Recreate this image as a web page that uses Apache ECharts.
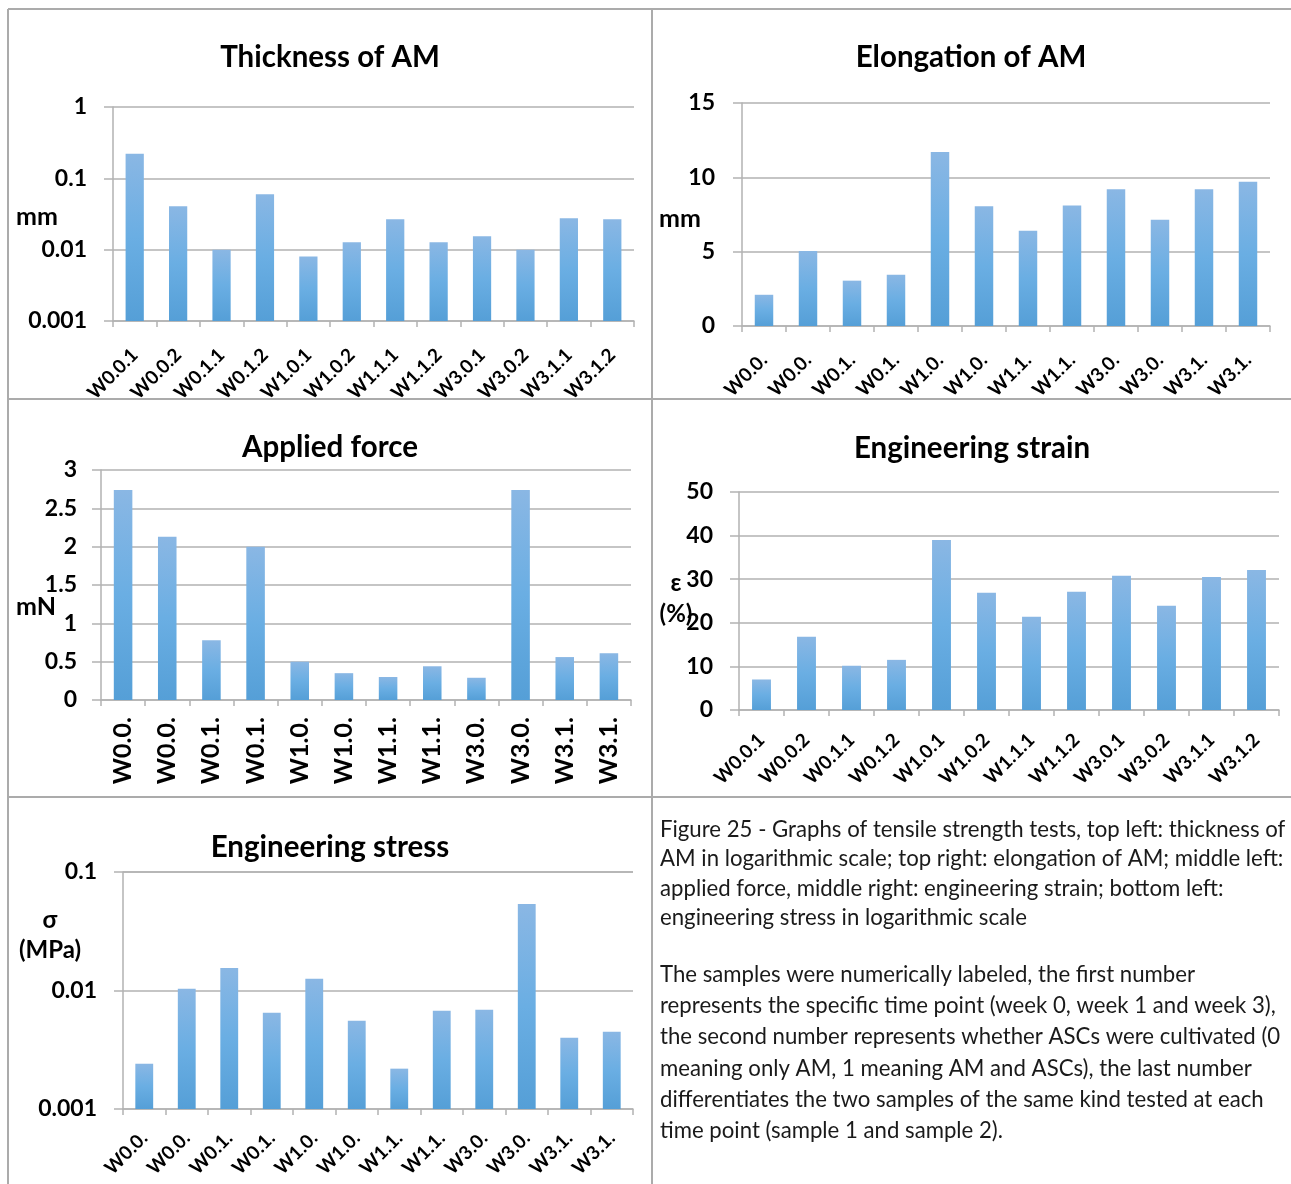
<!DOCTYPE html>
<html>
<head>
<meta charset="utf-8">
<title>Tensile strength tests</title>
<script src="https://cdn.jsdelivr.net/npm/echarts@6/dist/echarts.min.js"></script>
<style>
  html, body { margin: 0; padding: 0; background: #ffffff; }
  #main { width: 1291px; height: 1184px; }
</style>
</head>
<body>
<div id="main"></div>
<script>
// Sample ids: week . ASCs cultivated (0/1) . sample number
const sampleIds = ['W0.0.1', 'W0.0.2', 'W0.1.1', 'W0.1.2', 'W1.0.1', 'W1.0.2',
                   'W1.1.1', 'W1.1.2', 'W3.0.1', 'W3.0.2', 'W3.1.1', 'W3.1.2'];
// Clipped tick labels used on the narrower axes
const sampleIdsShort = ['W0.0.', 'W0.0.', 'W0.1.', 'W0.1.', 'W1.0.', 'W1.0.',
                        'W1.1.', 'W1.1.', 'W3.0.', 'W3.0.', 'W3.1.', 'W3.1.'];

const thicknessMm  = [0.222, 0.0405, 0.01, 0.06, 0.008, 0.0127, 0.0266, 0.0127, 0.0154, 0.01, 0.0275, 0.0266];
const elongationMm = [2.1, 5.05, 3.05, 3.45, 11.7, 8.05, 6.4, 8.1, 9.2, 7.15, 9.2, 9.7];
const forceMn      = [2.74, 2.13, 0.78, 2.0, 0.5, 0.35, 0.3, 0.44, 0.29, 2.74, 0.56, 0.61];
const strainPct    = [7, 16.8, 10.15, 11.5, 39, 26.9, 21.4, 27.1, 30.8, 23.9, 30.5, 32.1];
const stressMpa    = [0.00241, 0.01033, 0.01552, 0.00648, 0.01254, 0.00555, 0.00219, 0.00674, 0.00687, 0.0537, 0.00399, 0.00448];

const captionTop = 'Figure 25 - Graphs of tensile strength tests, top left: thickness of\n' +
  'AM in logarithmic scale; top right: elongation of AM; middle left:\n' +
  'applied force, middle right: engineering strain; bottom left:\n' +
  'engineering stress in logarithmic scale';
const captionBottom = 'The samples were numerically labeled, the first number\n' +
  'represents the specific time point (week 0, week 1 and week 3),\n' +
  'the second number represents whether ASCs were cultivated (0\n' +
  'meaning only AM, 1 meaning AM and ASCs), the last number\n' +
  'differentiates the two samples of the same kind tested at each\n' +
  'time point (sample 1 and sample 2).';

const FONT = 'Lato, "Open Sans", sans-serif';
const LINE = '#b2b2b2';
const BORDER = '#ababab';

const barFill = {
  type: 'linear', x: 0, y: 0, x2: 0, y2: 1,
  colorStops: [
    { offset: 0, color: '#8ab7e4' },
    { offset: 0.5, color: '#6aaee3' },
    { offset: 1, color: '#559fd7' }
  ]
};

const fmtNum = v => String(parseFloat(Number(v).toPrecision(6)));

// One entry per chart panel
const panels = [
  { title: 'Thickness of AM', cx: 330, ty: 57, grid: { left: 113, top: 107, width: 521, height: 214 },
    cats: sampleIds, data: thicknessMm, log: true, min: 0.001, max: 1, split: 3,
    rotate: 45, xFont: 19, xMargin: 31, yMargin: 26 },
  { title: 'Elongation of AM', cx: 971, ty: 57, grid: { left: 742, top: 103, width: 528, height: 223 },
    cats: sampleIdsShort, data: elongationMm, min: 0, max: 15, interval: 5,
    rotate: 45, xFont: 19, xMargin: 31, yMargin: 27 },
  { title: 'Applied force', cx: 330, ty: 447, grid: { left: 101, top: 470, width: 530, height: 230 },
    cats: sampleIdsShort, data: forceMn, min: 0, max: 3, interval: 0.5,
    rotate: 90, xFont: 25, xMargin: 17, yMargin: 24 },
  { title: 'Engineering strain', cx: 972, ty: 448, grid: { left: 739, top: 492, width: 540, height: 218 },
    cats: sampleIds, data: strainPct, min: 0, max: 50, interval: 10,
    rotate: 45, xFont: 19, xMargin: 27, yMargin: 26 },
  { title: 'Engineering stress', cx: 330, ty: 847, grid: { left: 123, top: 872, width: 510, height: 237 },
    cats: sampleIdsShort, data: stressMpa, log: true, min: 0.001, max: 0.1, split: 2,
    rotate: 45, xFont: 19, xMargin: 26, yMargin: 26 }
];

const option = {
  animation: false,
  backgroundColor: '#ffffff',
  title: panels.map(p => ({
    text: p.title, left: p.cx, top: p.ty - 18, textAlign: 'center', padding: 0,
    textStyle: { fontFamily: FONT, fontWeight: 'bold', fontSize: 29.5, color: '#000', lineHeight: 36 }
  })),
  grid: panels.map(p => Object.assign({ containLabel: false }, p.grid)),
  xAxis: panels.map((p, i) => ({
    type: 'category', gridIndex: i, data: p.cats,
    axisLine: { show: true, lineStyle: { color: LINE, width: 1.5 } },
    axisTick: { show: true, alignWithLabel: false, interval: 0, length: 6, lineStyle: { color: LINE, width: 1.5 } },
    axisLabel: { interval: 0, rotate: p.rotate, margin: p.xMargin, color: '#000',
                 fontFamily: FONT, fontWeight: 'bold', fontSize: p.xFont },
    splitLine: { show: false }
  })),
  yAxis: panels.map((p, i) => {
    const ax = {
      type: p.log ? 'log' : 'value', gridIndex: i, min: p.min, max: p.max,
      axisLine: { show: true, lineStyle: { color: LINE, width: 1.5 } },
      axisTick: { show: true, length: 9, lineStyle: { color: LINE, width: 1.5 } },
      axisLabel: { margin: p.yMargin, color: '#000', fontFamily: FONT, fontWeight: 'bold', fontSize: 23,
                   formatter: fmtNum },
      splitLine: { show: true, lineStyle: { color: LINE, width: 1.5 } },
      minorTick: { show: false }
    };
    if (p.log) { ax.logBase = 10; ax.splitNumber = p.split; ax.startValue = p.min; }
    else { ax.interval = p.interval; }
    return ax;
  }),
  series: panels.map((p, i) => ({
    type: 'bar', xAxisIndex: i, yAxisIndex: i, data: p.data,
    barWidth: '42%', itemStyle: { color: barFill }, silent: true
  })),
  graphic: [
    // panel frame
    { type: 'line', shape: { x1: 8, y1: 9, x2: 1291, y2: 9 }, style: { stroke: BORDER, lineWidth: 2 }, silent: true },
    { type: 'line', shape: { x1: 8, y1: 9, x2: 8, y2: 1184 }, style: { stroke: BORDER, lineWidth: 2 }, silent: true },
    { type: 'line', shape: { x1: 652, y1: 9, x2: 652, y2: 1184 }, style: { stroke: BORDER, lineWidth: 2 }, silent: true },
    { type: 'line', shape: { x1: 8, y1: 399, x2: 1291, y2: 399 }, style: { stroke: BORDER, lineWidth: 2 }, silent: true },
    { type: 'line', shape: { x1: 8, y1: 797, x2: 1291, y2: 797 }, style: { stroke: BORDER, lineWidth: 2 }, silent: true },
    // axis units
    { type: 'text', x: 37, y: 217, style: { text: 'mm', fill: '#000', font: 'bold 25px ' + FONT, textAlign: 'center', textVerticalAlign: 'middle' } },
    { type: 'text', x: 680, y: 219, style: { text: 'mm', fill: '#000', font: 'bold 25px ' + FONT, textAlign: 'center', textVerticalAlign: 'middle' } },
    { type: 'text', x: 36, y: 607, style: { text: 'mN', fill: '#000', font: 'bold 25px ' + FONT, textAlign: 'center', textVerticalAlign: 'middle' } },
    { type: 'text', x: 676, y: 599, style: { text: 'ε\n(%)', fill: '#000', font: 'bold 24px ' + FONT, lineHeight: 31, textAlign: 'center', textVerticalAlign: 'middle' } },
    { type: 'text', x: 50, y: 935, style: { text: 'σ\n(MPa)', fill: '#000', font: 'bold 24px ' + FONT, lineHeight: 30, textAlign: 'center', textVerticalAlign: 'middle' } },
    // caption
    { type: 'text', x: 660, y: 815, style: { text: captionTop, fill: '#1a1a1a', font: '22.2px ' + FONT, lineHeight: 29.4, textAlign: 'left', textVerticalAlign: 'top' } },
    { type: 'text', x: 660, y: 959, style: { text: captionBottom, fill: '#1a1a1a', font: '22.2px ' + FONT, lineHeight: 31.3, textAlign: 'left', textVerticalAlign: 'top' } }
  ]
};

const chart = echarts.init(document.getElementById('main'), null, { renderer: 'canvas' });
chart.setOption(option);
</script>
</body>
</html>
